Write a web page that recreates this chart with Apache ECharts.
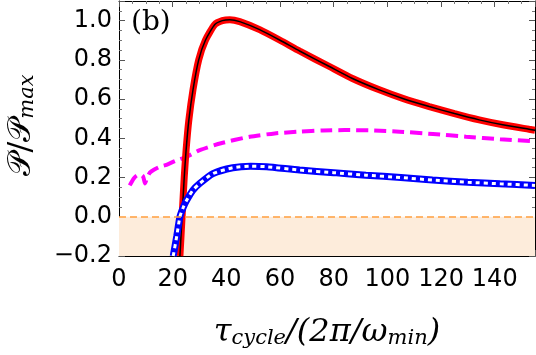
<!DOCTYPE html>
<html>
<head>
<meta charset="utf-8">
<script src="https://cdn.jsdelivr.net/npm/echarts@6/dist/echarts.min.js"></script>
<style>
html, body { margin: 0; padding: 0; background: #fff; }
#main { width: 536px; height: 355px; }
</style>
</head>
<body>
<div id="main"></div>
<script>
// values
var redX = [22.7, 23.5, 24.3, 25, 26, 27.6, 29.7, 32.2, 35.7, 38.5, 41.3, 45, 52.4, 60, 67.3, 78.4, 87, 97, 106, 115.6, 125, 134.2, 143, 152.8, 155];
var redY = [-0.2, 0.0, 0.2, 0.34, 0.49, 0.65, 0.80, 0.90, 0.98, 1.0, 1.005, 0.995, 0.954, 0.90, 0.845, 0.766, 0.705, 0.647, 0.602, 0.562, 0.526, 0.494, 0.469, 0.446, 0.441];

var blueX = [20.2, 21.5, 22.7, 24, 25.2, 27.5, 30.1, 35, 42.4, 49, 55, 67.3, 80, 92, 105, 116.8, 130, 142, 155];
var blueY = [-0.2, -0.1, 0.0, 0.05, 0.084, 0.135, 0.17, 0.22, 0.25, 0.258, 0.255, 0.238, 0.225, 0.212, 0.2, 0.187, 0.176, 0.168, 0.16];

var magX = [4, 5.5, 6.6, 8, 9, 9.7, 10.5, 11.5, 13, 15.2, 17.7, 21, 25.2, 30.1, 38, 48.7, 58, 67.3, 76, 84, 95, 104.5, 117, 129.3, 142, 155];
var magY = [0.16, 0.195, 0.21, 0.215, 0.205, 0.17, 0.2, 0.225, 0.24, 0.255, 0.265, 0.285, 0.306, 0.34, 0.375, 0.408, 0.425, 0.434, 0.44, 0.442, 0.44, 0.434, 0.422, 0.408, 0.395, 0.385];

var xTicks = [0, 20, 40, 60, 80, 100, 120, 140];
var yTicks = [-0.2, 0.0, 0.2, 0.4, 0.6, 0.8, 1.0];

function pairs(xs, ys) {
	return xs.map(function (x, i) { return [x, ys[i]]; });
}

var myChart = echarts.init(document.getElementById('main'));

var tickFont = 'DejaVu Sans, sans-serif';
var mathFont = 'DejaVu Serif, Liberation Serif, serif';

var baseAxis = {
	type: 'value',
	axisLine: { show: true, onZero: false, lineStyle: { color: '#000', width: 1 } },
	axisTick: { show: true, inside: true, length: 6, lineStyle: { color: '#555' } },
	minorTick: { show: true, splitNumber: 4, length: 3, lineStyle: { color: '#777' } },
	splitLine: { show: false }
};

option = {
	animation: false,
	title: {
		text: '(b)',
		left: 126,
		top: 4,
		textStyle: { fontFamily: mathFont, fontWeight: 'normal', fontSize: 28, color: '#000' }
	},
	// y axis title, rotated
	graphic: [{
		type: 'text',
		x: 20,
		y: 125,
		rotation: Math.PI / 2,
		style: {
			text: '{a|𝒫/𝒫}{s|max}',
			align: 'center',
			verticalAlign: 'middle',
			rich: {
				a: { fontFamily: mathFont, fontSize: 32, lineHeight: 36, verticalAlign: 'bottom', fill: '#000' },
				s: { fontFamily: mathFont, fontStyle: 'italic', fontSize: 21, lineHeight: 28, verticalAlign: 'bottom', fill: '#000' }
			}
		}
	}],
	grid: { left: 119, right: 1, top: 1, bottom: 99, outerBoundsMode: 'none', containLabel: false },
	xAxis: [
		Object.assign({}, baseAxis, {
			min: 0, max: 155, interval: 20,
			axisLabel: {
				margin: 12,
				color: '#000',
				fontFamily: tickFont,
				fontSize: 24,
				showMaxLabel: false,
				formatter: function (v) { return xTicks.indexOf(v) >= 0 ? String(v) : ''; }
			},
			name: '{a|τ}{s|cycle}{a|/(2π/ω}{s|min}{a|)}',
			nameLocation: 'middle',
			nameGap: 53,
			nameTextStyle: {
				rich: {
					a: { fontFamily: mathFont, fontStyle: 'italic', fontSize: 32, lineHeight: 40, verticalAlign: 'bottom', color: '#000' },
					s: { fontFamily: mathFont, fontStyle: 'italic', fontSize: 21, lineHeight: 30, verticalAlign: 'bottom', color: '#000' }
				}
			}
		}),
		Object.assign({}, baseAxis, {
			min: 0, max: 155, interval: 20, position: 'top',
			axisLabel: { show: false }
		})
	],
	yAxis: [
		Object.assign({}, baseAxis, {
			min: -0.2, max: 1.1, interval: 0.2,
			axisLabel: {
				margin: 7,
				color: '#000',
				fontFamily: tickFont,
				fontSize: 24,
				showMaxLabel: false,
				formatter: function (v) {
					var r = Math.round(v * 10) / 10;
					if (yTicks.indexOf(r) < 0 || Math.abs(r - v) > 1e-6) return '';
					return r < 0 ? '\u2212' + Math.abs(r).toFixed(1) : r.toFixed(1);
				}
			}
		}),
		Object.assign({}, baseAxis, {
			min: -0.2, max: 1.1, interval: 0.2, position: 'right',
			axisLabel: { show: false }
		})
	],
	series: [
		{
			name: 'zero',
			type: 'line',
			data: [],
			markArea: {
				silent: true,
				itemStyle: { color: '#fdecdb' },
				data: [[{ yAxis: -0.2 }, { yAxis: 0 }]]
			},
			markLine: {
				silent: true,
				symbol: 'none',
				label: { show: false },
				lineStyle: { color: '#ffa040', width: 1.5, type: [7, 4] },
				data: [{ yAxis: 0 }]
			}
		},
		{
			name: 'magenta',
			type: 'line',
			smooth: 0.2,
			showSymbol: false,
			lineStyle: { color: '#ff00ff', width: 4, type: [12, 6], cap: 'butt' },
			data: pairs(magX, magY)
		},
		{
			name: 'red',
			type: 'line',
			smooth: 0.2,
			showSymbol: false,
			lineStyle: { color: '#ff0000', width: 7 },
			data: pairs(redX, redY)
		},
		{
			name: 'black',
			type: 'line',
			smooth: 0.2,
			showSymbol: false,
			lineStyle: { color: '#000', width: 1.5 },
			data: pairs(redX, redY)
		},
		{
			name: 'blue',
			type: 'line',
			smooth: 0.2,
			showSymbol: false,
			lineStyle: { color: '#0000ff', width: 7 },
			data: pairs(blueX, blueY)
		},
		{
			name: 'white',
			type: 'line',
			smooth: 0.2,
			showSymbol: false,
			lineStyle: { color: '#fff', width: 3, type: [4, 4], cap: 'butt' },
			data: pairs(blueX, blueY)
		}
	]
};

myChart.setOption(option);
window.addEventListener("resize", function () {
	myChart.resize();
});
</script>
</body>
</html>
